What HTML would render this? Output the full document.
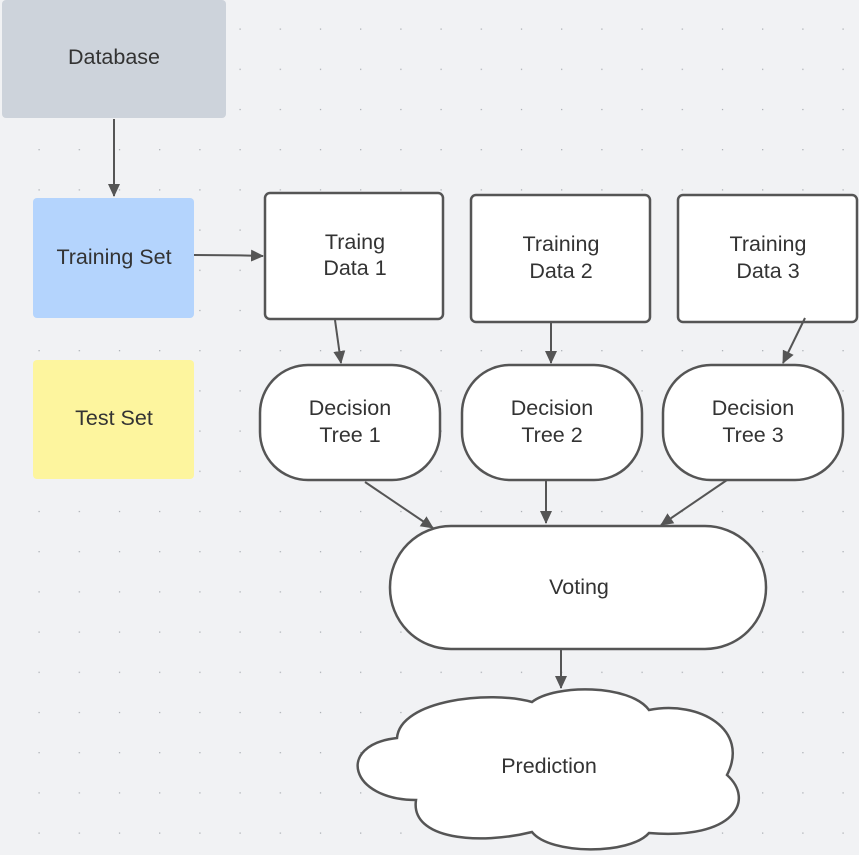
<!DOCTYPE html>
<html><head><meta charset="utf-8"><style>
body{margin:0;background:#f1f2f4;}
svg{display:block;font-family:"Liberation Sans",sans-serif;}
</style></head><body>
<svg width="859" height="855" viewBox="0 0 859 855" xmlns="http://www.w3.org/2000/svg">
<defs>
<pattern id="d" x="0" y="0" width="40.2" height="40.2" patternUnits="userSpaceOnUse" patternTransform="translate(38.5,28.5)">
<rect x="0" y="0" width="1.2" height="1.2" fill="#a4a8ae"/>
</pattern>
<marker id="a" markerWidth="14" markerHeight="14" refX="12" refY="7" orient="auto" markerUnits="userSpaceOnUse">
<path d="M0,1 L13,7 L0,13 z" fill="#555"/>
</marker>
</defs>
<rect width="859" height="855" fill="#f1f2f4"/>
<rect width="859" height="855" fill="url(#d)"/>
<g font-size="21.5" fill="#333" text-anchor="middle">
<rect x="2" y="0" width="224" height="118" rx="4" fill="#cdd3db"/>
<text x="114" y="64">Database</text>
<rect x="33" y="198" width="161" height="120" rx="4" fill="#b4d4fd"/>
<text x="114" y="264">Training Set</text>
<rect x="33" y="360" width="161" height="119" rx="4" fill="#fdf59e"/>
<text x="114" y="425">Test Set</text>
</g>
<g fill="#fff" stroke="#555" stroke-width="2.5">
<rect x="265" y="193" width="178" height="126" rx="5"/>
<rect x="471" y="195" width="179" height="127" rx="5"/>
<rect x="678" y="195" width="179" height="127" rx="5"/>
<rect x="260" y="365" width="180" height="115" rx="48"/>
<rect x="462" y="365" width="180" height="115" rx="48"/>
<rect x="663" y="365" width="180" height="115" rx="48"/>
<rect x="390" y="526" width="376" height="123" rx="61"/>
<path d="M532,702 C555,684 630,684 649,710 C700,700 750,730 727,775 C755,800 735,840 649,833 C630,855 550,855 532,832 C480,845 410,840 416,800 C350,800 335,745 397,738 C400,700 490,690 532,702 Z"/>
</g>
<g stroke="#555" stroke-width="2" fill="none" marker-end="url(#a)">
<line x1="114" y1="119" x2="114" y2="196"/>
<path d="M194,255 Q230,255 263,256"/>
<line x1="335" y1="320" x2="341" y2="363"/>
<line x1="551" y1="322" x2="551" y2="363"/>
<line x1="805" y1="318" x2="783" y2="363"/>
<line x1="365" y1="482" x2="433" y2="528"/>
<line x1="546" y1="481" x2="546" y2="523"/>
<line x1="727" y1="480" x2="661" y2="525"/>
<line x1="561" y1="648" x2="561" y2="688"/>
</g>
<g font-size="21.5" fill="#333" text-anchor="middle">
<text x="355" y="249">Traing</text><text x="355" y="275">Data 1</text>
<text x="561" y="251">Training</text><text x="561" y="278">Data 2</text>
<text x="768" y="251">Training</text><text x="768" y="278">Data 3</text>
<text x="350" y="415">Decision</text><text x="350" y="442">Tree 1</text>
<text x="552" y="415">Decision</text><text x="552" y="442">Tree 2</text>
<text x="753" y="415">Decision</text><text x="753" y="442">Tree 3</text>
<text x="579" y="594">Voting</text>
<text x="549" y="773">Prediction</text>
</g>
</svg>
</body></html>
